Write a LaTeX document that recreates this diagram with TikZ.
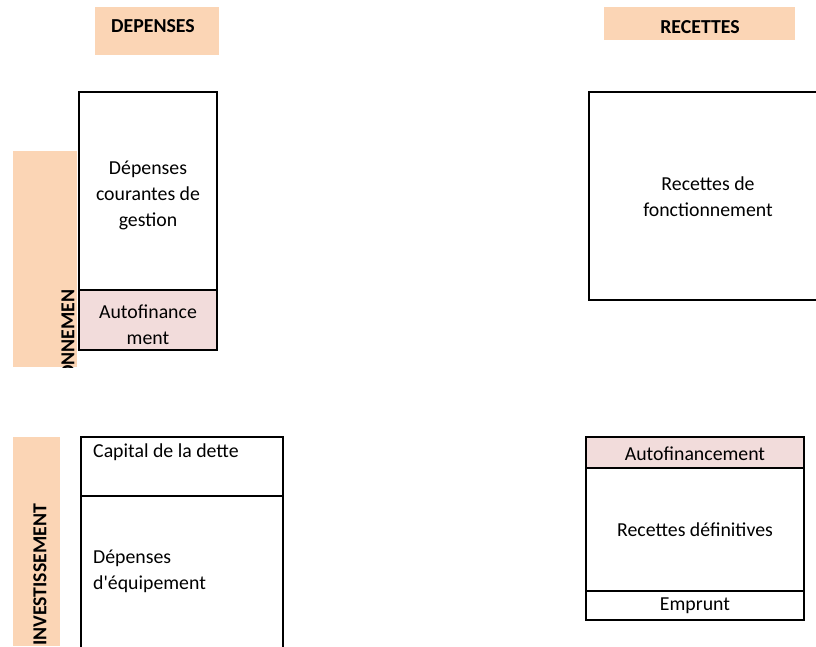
\documentclass[tikz,border=0pt]{standalone}
\usepackage{fontspec}
\setmainfont{Carlito}
\usepackage{xcolor}
\usetikzlibrary{positioning}
\definecolor{peach}{RGB}{251,213,181}
\definecolor{rosepale}{RGB}{242,220,219}

\begin{document}
\begin{tikzpicture}[x=1pt,y=-1pt,
  every node/.style={font=\fontsize{19.8}{26}\selectfont, inner sep=0pt},
  titre/.style={font=\fontsize{19.8}{26}\selectfont\bfseries},
  cadre/.style={line width=1.8pt}]

\useasboundingbox (0,0) rectangle (816,646);
\clip (0,0) rectangle (816,646);

% en-tetes
\fill [peach] (95,7) rectangle (219,55);
\node [titre] (depenses) at (153,26) {DEPENSES};
\fill [peach] (604,7) rectangle (795,40);
\node [titre] (recettes) at (700,27) {RECETTES};

% bandes laterales
\fill [peach] (13,151) rectangle (77,367);
\begin{scope}
\clip (13,151) rectangle (77,367);
\node [titre, rotate=90] (fonct) at (68,334) {ONNEMEN};
\end{scope}
\fill [peach] (13,437) rectangle (60,646);
\node [titre, rotate=90] (invest) at (40,575) {INVESTISSEMENT};

% fonctionnement - depenses
\draw [cadre] (79,92) rectangle (217,290);
\node [align=center] (courantes) at (148,195) {D\'epenses\\ courantes de\\ gestion};
\draw [cadre, fill=rosepale] (79,290) rectangle (217,350);
\node [align=center] (autofd) at (148,324.5) {Autofinance\\ ment};

% fonctionnement - recettes
\draw [cadre] (589,92) rectangle (820,300);
\node [align=center] (rfonct) at (708,197) {Recettes de\\ fonctionnement};

% investissement - depenses
\draw [cadre] (81,437) rectangle (283,496);
\node [anchor=west] (capital) at (93,452) {Capital de la dette};
\draw [cadre] (81,496) rectangle (283,650);
\node [anchor=west, align=left] (equip) at (93,571.5) {D\'epenses\\ d\textquotesingle\'equipement};

% investissement - recettes
\draw [cadre, fill=rosepale] (586,437) rectangle (804,468);
\node (autofr) at (695,454) {Autofinancement};
\draw [cadre] (586,468) rectangle (804,591);
\node (rdef) at (695,530) {Recettes d\'efinitives};
\draw [cadre] (586,591) rectangle (804,620);
\node (emprunt) at (695,606) {Emprunt};
\end{tikzpicture}
\end{document}
